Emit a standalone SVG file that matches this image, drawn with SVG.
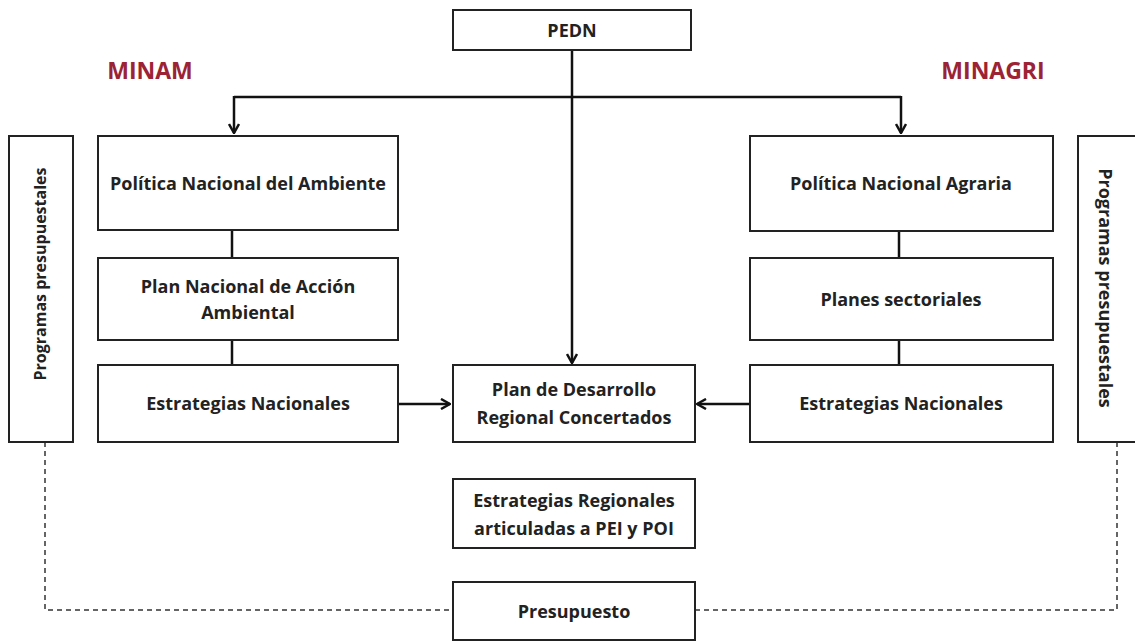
<svg xmlns="http://www.w3.org/2000/svg" width="1135" height="643" viewBox="0 0 1135 643">
<style>
.box{fill:#fff;stroke:#222;stroke-width:2}
.t{font-family:"Open Sans","Liberation Sans",sans-serif;font-weight:bold;font-size:18px;fill:#222;text-anchor:middle;dominant-baseline:central}
.org{font-family:"Open Sans","Liberation Sans",sans-serif;font-weight:bold;font-size:23px;fill:#9b2335;text-anchor:middle;dominant-baseline:central}
.c{fill:none;stroke:#111;stroke-width:2.5}
.d{fill:none;stroke:#333;stroke-width:1.5;stroke-dasharray:5,4}
</style>
<defs>
<marker id="ah" viewBox="0 0 12 12" refX="11" refY="6" markerWidth="12" markerHeight="12" markerUnits="userSpaceOnUse" orient="auto">
<path d="M2,1 L11,6 L2,11" fill="none" stroke="#111" stroke-width="2.5"/>
</marker>
</defs>
<rect width="1135" height="643" fill="#fff"/>
<text class="org" x="150" y="70">MINAM</text>
<text class="org" x="993" y="70">MINAGRI</text>
<g id="connectors">
<path class="c" d="M572,50 V363" marker-end="url(#ah)"/>
<path class="c" d="M234,97 H901"/>
<path class="c" d="M234,96 V133" marker-end="url(#ah)"/>
<path class="c" d="M901,96 V133" marker-end="url(#ah)"/>
<path class="c" d="M232,230 V258 M232,340 V365"/>
<path class="c" d="M899,231 V258 M899,340 V365"/>
<path class="c" d="M398,404 H450" marker-end="url(#ah)"/>
<path class="c" d="M750,404 H697" marker-end="url(#ah)"/>
<path class="d" d="M45,442 V610 H453"/>
<path class="d" d="M1117,442 V610 H695"/>
</g>
<g id="pedn"><rect class="box" x="453" y="10" width="238" height="40"/><text class="t" x="572" y="30">PEDN</text></g>
<g id="prog-left"><rect class="box" x="9" y="136" width="64" height="306"/><text class="t" style="font-size:16px" transform="translate(40,274) rotate(-90)">Programas presupuestales</text></g>
<g id="prog-right"><rect class="box" x="1078" y="136" width="70" height="306"/><text class="t" transform="translate(1106,288) rotate(90)">Programas presupuestales</text></g>
<g id="pna"><rect class="box" x="98" y="136" width="300" height="94"/><text class="t" x="248" y="183">Política Nacional del Ambiente</text></g>
<g id="plana"><rect class="box" x="98" y="258" width="300" height="82"/><text class="t" x="248" y="286">Plan Nacional de Acción</text><text class="t" x="248" y="312">Ambiental</text></g>
<g id="en-left"><rect class="box" x="98" y="365" width="300" height="77"/><text class="t" x="248" y="403">Estrategias Nacionales</text></g>
<g id="pnag"><rect class="box" x="750" y="136" width="303" height="95"/><text class="t" x="901" y="183">Política Nacional Agraria</text></g>
<g id="ps"><rect class="box" x="750" y="258" width="303" height="82"/><text class="t" x="901" y="299">Planes sectoriales</text></g>
<g id="en-right"><rect class="box" x="750" y="365" width="303" height="77"/><text class="t" x="901" y="403">Estrategias Nacionales</text></g>
<g id="pdrc"><rect class="box" x="453" y="365" width="242" height="77"/><text class="t" x="574" y="389">Plan de Desarrollo</text><text class="t" x="574" y="417">Regional Concertados</text></g>
<g id="er"><rect class="box" x="453" y="479" width="242" height="69"/><text class="t" x="574" y="500">Estrategias Regionales</text><text class="t" x="574" y="528">articuladas a PEI y POI</text></g>
<g id="pres"><rect class="box" x="453" y="582" width="242" height="58"/><text class="t" x="574" y="611">Presupuesto</text></g>
</svg>
